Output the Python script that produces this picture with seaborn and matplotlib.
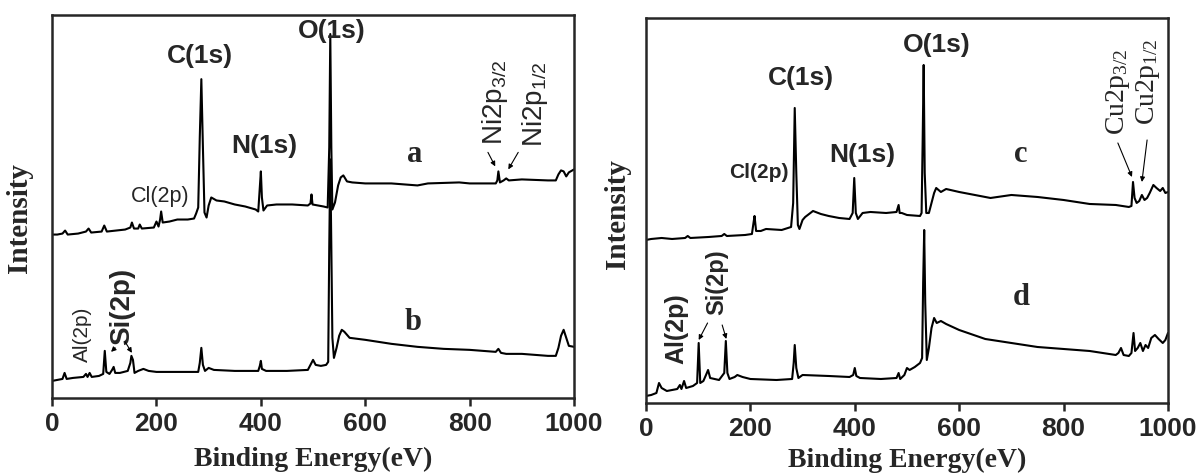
import matplotlib
matplotlib.use("Agg")
import matplotlib.pyplot as plt
import seaborn as sns
import pandas as pd

# XPS survey spectra (intensity in arbitrary units)
energy_a = [0, 10, 20, 25, 30, 50, 65, 70, 75, 95, 100, 105, 140, 150, 153, 157, 165, 168, 172,
            195, 200, 204, 207, 209, 212, 225, 240, 260, 272, 276, 280, 283, 286, 289, 292, 296,
            300, 305, 315, 330, 350, 370, 390, 395, 398, 400, 402, 405, 412, 430, 460, 490, 495,
            497, 499, 520, 528, 531, 533, 535, 537, 542, 548, 553, 558, 565, 575, 600, 650, 700,
            720, 780, 800, 830, 850, 853, 855, 858, 865, 870, 875, 900, 950, 965, 970, 975, 980,
            985, 990, 1000]
inten_a = [163, 163, 164, 167, 163, 164, 166, 169, 165, 166, 172, 166, 168, 170, 175, 169, 169, 173,
           169, 170, 176, 171, 178, 186, 175, 176, 178, 178, 179, 184, 190, 260, 318, 250, 185, 180,
           192, 200, 197, 196, 193, 191, 188, 186, 210, 226, 200, 187, 192, 193, 193, 192, 194,
           203, 193, 191, 190, 250, 363, 250, 188, 195, 212, 220, 222, 216, 215, 214, 214, 212,
           214, 215, 214, 214, 214, 217, 226, 215, 217, 219, 217, 218, 217, 217, 223, 227, 226,
           221, 225, 228]

energy_b = [0, 10, 20, 24, 28, 40, 60, 65, 68, 72, 76, 90, 98, 101, 104, 110, 115, 118, 121, 130,
            145, 150, 152, 155, 158, 165, 175, 185, 200, 250, 280, 283, 286, 289, 293, 300, 310,
            350, 395, 398, 400, 402, 410, 450, 490, 495, 500, 505, 515, 525, 529, 531, 533, 535,
            537, 540, 545, 550, 555, 560, 570, 600, 650, 700, 750, 800, 850, 855, 860, 870, 900,
            950, 965, 970, 975, 980, 985, 990, 1000]
inten_b = [17, 18, 19, 25, 19, 20, 21, 24, 21, 25, 21, 22, 24, 47, 26, 24, 28, 31, 25, 25,
           27, 35, 42, 38, 25, 27, 29, 27, 26, 26, 26, 35, 50, 33, 27, 30, 28,
           27, 27, 32, 37, 29, 27, 27, 28, 33, 38, 33, 32, 33, 36, 150, 238, 150,
           60, 40, 50, 62, 68, 66, 60, 58, 54, 51, 49, 48, 46, 49, 45, 44, 44,
           42, 42, 50, 62, 68, 60, 52, 51]

energy_c = [0, 10, 30, 50, 75, 80, 85, 120, 145, 150, 155, 190, 203, 206, 208, 211, 220, 230, 260,
            278, 282, 285, 288, 291, 294, 300, 305, 320, 335, 350, 370, 390, 396, 399, 402, 406,
            415, 430, 460, 480, 484, 486, 490, 500, 525, 528, 530, 532, 534, 537, 542, 547, 552,
            556, 565, 575, 600, 640, 660, 700, 750, 800, 850, 900, 925, 930, 933, 936, 940, 945,
            950, 955, 960, 965, 972, 978, 985, 990, 995, 1000]
inten_c = [163, 164, 165, 164, 165, 167, 165, 166, 167, 169, 167, 168, 169, 180, 187, 172, 172, 174,
           173, 176, 200, 295, 230, 178, 174, 183, 186, 192, 189, 187, 185, 184, 190, 225, 190,
           184, 190, 191, 190, 191, 198, 190, 190, 188, 187, 190, 260, 338, 230, 190, 190, 200,
           210, 215, 211, 214, 211, 207, 205, 208, 206, 203, 199, 198, 196, 197, 221, 205, 200,
           202, 208, 203, 205, 210, 218, 215, 212, 215, 210, 211]

energy_d = [0, 10, 20, 25, 30, 40, 60, 65, 68, 73, 77, 90, 98, 101, 104, 110, 115, 119, 123, 140,
            150, 153, 156, 160, 170, 175, 185, 200, 250, 280, 283, 285, 288, 292, 300, 350, 390,
            397, 400, 403, 410, 450, 480, 484, 487, 495, 500, 505, 515, 525, 529, 531, 533, 535,
            538, 542, 547, 552, 557, 565, 575, 600, 650, 700, 750, 800, 850, 900, 905, 910, 915,
            925, 930, 934, 937, 942, 947, 952, 957, 962, 968, 975, 982, 990, 995, 1000]
inten_d = [7, 8, 10, 20, 15, 12, 14, 18, 14, 22, 15, 17, 20, 60, 20, 22, 28, 33, 25, 23,
           30, 62, 30, 24, 26, 28, 26, 24, 23, 24, 40, 58, 35, 25, 28, 27, 26,
           28, 35, 27, 25, 24, 25, 30, 24, 28, 35, 33, 36, 40, 45, 120, 173, 100,
           43, 55, 75, 85, 80, 82, 79, 73, 64, 60, 56, 54, 52, 48, 50, 55, 48,
           47, 50, 70, 52, 55, 60, 52, 58, 55, 65, 68, 64, 60, 63, 70]

xticks = [0, 200, 400, 600, 800, 1000]

sns.set_style("ticks")
plt.rcParams['font.family'] = ['Liberation Sans', 'DejaVu Sans']
plt.rcParams['mathtext.default'] = 'regular'
plt.rcParams['axes.linewidth'] = 1.8

SANS = 'Liberation Sans'
SERIF = 'Liberation Serif'

fig = plt.figure(figsize=(12.02, 4.73), dpi=100)
ax1 = fig.add_axes([0.0433, 0.1586, 0.4343, 0.8097])
ax2 = fig.add_axes([0.5374, 0.148, 0.4343, 0.814])

for ax, pairs, top, lpad in [(ax1, [(energy_a, inten_a), (energy_b, inten_b)], 382, 8),
                             (ax2, [(energy_c, inten_c), (energy_d, inten_d)], 385, 5)]:
    for e, i in pairs:
        df = pd.DataFrame({'E': e, 'I': i})
        sns.lineplot(data=df, x='E', y='I', ax=ax, color='black', lw=1.5, estimator=None)
    ax.set_xlim(0, 1000)
    ax.set_ylim(0, top)
    ax.set_xticks(xticks)
    ax.set_yticks([])
    ax.tick_params(axis='x', direction='out', length=6, width=1.8, pad=4)
    for lab in ax.get_xticklabels():
        lab.set_fontfamily(SANS)
        lab.set_fontweight('bold')
        lab.set_fontsize(19)
    ax.set_xlabel('Binding Energy(eV)', fontfamily=SERIF, fontweight='bold', fontsize=20, labelpad=lpad)
    ax.set_ylabel('Intensity', fontfamily=SERIF, fontweight='bold', fontsize=21)
    for s in ax.spines.values():
        s.set_visible(True)

ax1.yaxis.set_label_coords(-0.036, 0.47)
ax2.yaxis.set_label_coords(-0.028, 0.49)

big = dict(fontfamily=SANS, fontweight='bold', fontsize=19, ha='center', va='center')
let = dict(fontfamily=SERIF, fontweight='bold', fontsize=22, ha='center', va='center')
arr = dict(arrowstyle='-|>', lw=0.8, color='black', mutation_scale=7, shrinkA=0, shrinkB=0)

# left panel
ax1.text(283, 341, 'C(1s)', **big)
ax1.text(535, 366, 'O(1s)', **big)
ax1.text(407, 251, 'N(1s)', **big)
ax1.text(207, 201, 'Cl(2p)', fontfamily=SANS, fontsize=15.5, ha='center', va='center')
ax1.text(695, 243, 'a', **let)
ax1.text(691, 75, 'b', **let)
ax1.text(849, 295, r'Ni2p$_{3/2}$', fontfamily=SANS, fontsize=20, rotation=90, ha='center', va='center')
ax1.text(925, 293, r'Ni2p$_{1/2}$', fontfamily=SANS, fontsize=20, rotation=90, ha='center', va='center')
ax1.annotate('', xy=(849, 231), xytext=(835, 245), arrowprops=arr)
ax1.annotate('', xy=(874, 228), xytext=(893, 245), arrowprops=arr)
ax1.text(58, 64, 'Al(2p)', fontfamily=SANS, fontsize=15, rotation=90, ha='center', va='center')
ax1.text(134, 91, 'Si(2p)', fontfamily=SANS, fontweight='bold', fontsize=20, rotation=90, ha='center', va='center')
ax1.annotate('', xy=(113, 46), xytext=(121, 50), arrowprops=arr)
ax1.annotate('', xy=(153, 45), xytext=(140, 56), arrowprops=arr)

# right panel
ax2.text(296, 325, 'C(1s)', **big)
ax2.text(557, 358, 'O(1s)', **big)
ax2.text(414, 248, 'N(1s)', **big)
ax2.text(217, 230, 'Cl(2p)', fontfamily=SANS, fontweight='bold', fontsize=15, ha='center', va='center')
ax2.text(718, 248, 'c', **let)
ax2.text(718, 105, 'd', **let)
ax2.text(904, 311, r'Cu2p$_{3/2}$', fontfamily=SERIF, fontsize=20, rotation=90, ha='center', va='center')
ax2.text(962, 321, r'Cu2p$_{1/2}$', fontfamily=SERIF, fontsize=20, rotation=90, ha='center', va='center')
ax2.annotate('', xy=(931, 226), xytext=(904, 260), arrowprops=arr)
ax2.annotate('', xy=(950, 221), xytext=(960, 263), arrowprops=arr)
ax2.text(59, 74, 'Al(2p)', fontfamily=SANS, fontweight='bold', fontsize=18, rotation=90, ha='center', va='center')
ax2.text(135, 121, 'Si(2p)', fontfamily=SANS, fontweight='bold', fontsize=17, rotation=90, ha='center', va='center')
ax2.annotate('', xy=(101, 63), xytext=(118, 80), arrowprops=arr)
ax2.annotate('', xy=(154, 64), xytext=(146, 78), arrowprops=arr)

fig.savefig('out.png', dpi=100)
